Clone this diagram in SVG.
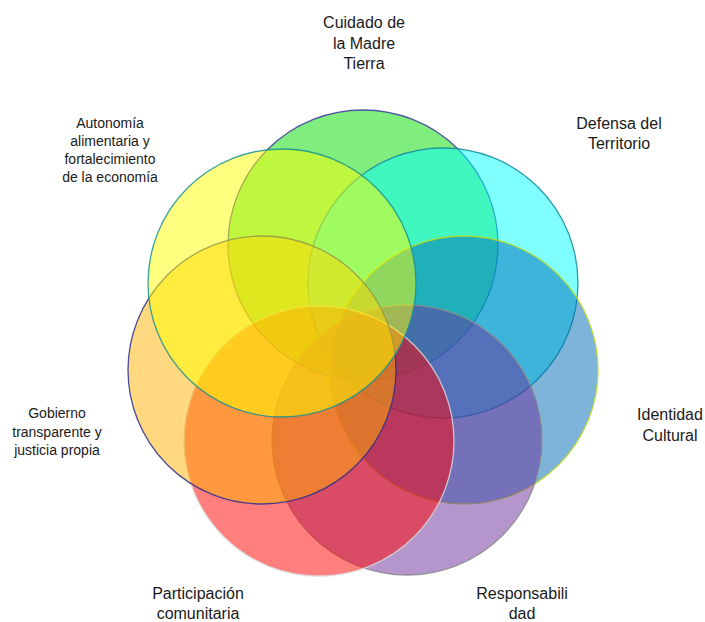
<svg xmlns="http://www.w3.org/2000/svg" width="705" height="622" viewBox="0 0 705 622">
<style>
.c{fill-opacity:0.5;stroke-width:1.3;stroke-opacity:0.85}
.t{font-family:"Liberation Sans",Arial,sans-serif;fill:#1a1a1a;text-anchor:middle}
.l{font-size:16px}
.s{font-size:14px}
</style>
<rect width="705" height="622" fill="#ffffff"/>
<g id="circles">
<g id="n-cuidado"><circle class="c" cx="363" cy="245" r="135" fill="#00DD00" stroke="#3a3a9a"/></g>
<g id="n-defensa"><circle class="c" cx="443" cy="283" r="135" fill="#00FFFF" stroke="#168a9e"/></g>
<g id="n-identidad"><circle class="c" cx="464" cy="370" r="134" fill="#0069B5" stroke="#b8dc20"/></g>
<g id="n-responsabilidad"><circle class="c" cx="407" cy="440" r="135" fill="#692D99" stroke="#8c8c8c"/></g>
<g id="n-participacion"><circle class="c" cx="319" cy="441" r="135" fill="#FF0000" stroke="#d8d8d8"/></g>
<g id="n-gobierno"><circle class="c" cx="262" cy="370" r="134" fill="#FFB100" stroke="#2e2e8e"/></g>
<g id="n-autonomia"><circle class="c" cx="282" cy="283" r="134" fill="#FFFF00" stroke="#1a9090"/></g>
</g>
<g id="labels">
<text class="t l" x="364"><tspan x="364" y="28">Cuidado de</tspan><tspan x="364" y="49">la Madre</tspan><tspan x="364" y="69">Tierra</tspan></text>
<text class="t s" x="110"><tspan x="110" y="128">Autonomía</tspan><tspan x="110" y="146">alimentaria y</tspan><tspan x="110" y="164">fortalecimiento</tspan><tspan x="110" y="182">de la economía</tspan></text>
<text class="t l" x="619"><tspan x="619" y="129">Defensa del</tspan><tspan x="619" y="149">Territorio</tspan></text>
<text class="t s" x="57"><tspan x="57" y="418">Gobierno</tspan><tspan x="57" y="437">transparente y</tspan><tspan x="57" y="455">justicia propia</tspan></text>
<text class="t l" x="670"><tspan x="670" y="420">Identidad</tspan><tspan x="670" y="441">Cultural</tspan></text>
<text class="t l" x="198"><tspan x="198" y="599">Participación</tspan><tspan x="198" y="619">comunitaria</tspan></text>
<text class="t l" x="522"><tspan x="522" y="599">Responsabili</tspan><tspan x="522" y="619">dad</tspan></text>
</g>
</svg>
